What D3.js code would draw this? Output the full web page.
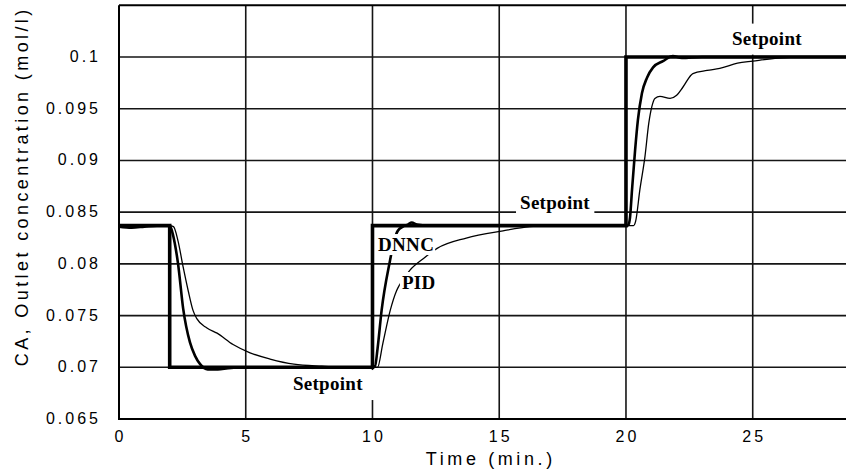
<!DOCTYPE html>
<html>
<head>
<meta charset="utf-8">
<script src="https://cdn.jsdelivr.net/npm/d3@7/dist/d3.min.js"></script>
<style>
  html, body { margin: 0; padding: 0; background: #fff; }
  svg { display: block; }
</style>
</head>
<body>
<svg id="chart" width="846" height="474"></svg>
<script>
// Axis ticks
const timeTicks = [0, 5, 10, 15, 20, 25];
const timeTickLabels = ["0", "5", "10", "15", "20", "25"];
const concTicks = [0.065, 0.07, 0.075, 0.08, 0.085, 0.09, 0.095, 0.1];
const concTickLabels = ["0.065", "0.07", "0.075", "0.08", "0.085", "0.09", "0.095", "0.1"];

// Setpoint (step changes)
const setpointTime = [0, 2, 10, 20, 28.7];
const setpointConc = [0.0837, 0.07, 0.0837, 0.1, 0.1];

// DNNC controller response
const dnncTime = [0, 0.5, 1.0, 1.5, 2.0, 2.1, 2.2, 2.33, 2.53, 2.8, 3.0, 3.2, 3.5, 3.9, 4.3, 5.0,
  9.95, 10.1, 10.2, 10.36, 10.69, 10.85, 11.0, 11.2, 11.4, 11.55, 11.75, 12.2,
  20.05, 20.1, 20.16, 20.24, 20.36, 20.47, 20.63, 20.83, 21.07, 21.46, 21.85, 22.2, 23.0, 28.7];
const dnncConc = [0.0836, 0.0835, 0.0836, 0.0837, 0.0837, 0.0831, 0.0820, 0.0800, 0.0757, 0.0724, 0.0711, 0.0703, 0.0698, 0.0698, 0.0699, 0.0700,
  0.0700, 0.0701, 0.0718, 0.0755, 0.0803, 0.0822, 0.0832, 0.0836, 0.0838, 0.0840, 0.0838, 0.0837,
  0.0837, 0.0838, 0.0845, 0.0872, 0.0910, 0.0939, 0.0965, 0.0980, 0.0990, 0.0996, 0.1001, 0.0999, 0.1000, 0.1000];

// PID controller response
const pidTime = [0, 1.0, 2.0, 2.15, 2.33, 2.53, 2.73, 2.92, 3.07, 3.47, 3.87, 4.5, 5.17, 5.96, 6.9, 8.0, 9.0,
  10.2, 10.4, 10.7, 10.95, 11.1, 11.48, 12.0, 12.55, 13.7, 15.15, 16.2, 17.0,
  20.3, 20.38, 20.55, 20.75, 20.9, 21.02, 21.14, 21.34, 21.74, 22.0, 22.25, 22.64, 23.2, 23.7, 24.4, 25.0, 26.0, 27.0, 28.7];
const pidConc = [0.0837, 0.0837, 0.0837, 0.0836, 0.0822, 0.0797, 0.0774, 0.0755, 0.0747, 0.0738, 0.0733, 0.0722, 0.0714, 0.0708, 0.0703, 0.0701, 0.0700,
  0.0700, 0.0722, 0.0755, 0.0774, 0.0781, 0.0794, 0.0805, 0.0815, 0.0825, 0.0832, 0.0836, 0.0837,
  0.0837, 0.0841, 0.0872, 0.0904, 0.0936, 0.0952, 0.0960, 0.0962, 0.0960, 0.0963, 0.0971, 0.0984, 0.0987, 0.0989, 0.0994, 0.0996, 0.0999, 0.1000, 0.1000];

// Curve annotations (anchored in data units)
const noteText = ["Setpoint", "Setpoint", "Setpoint", "DNNC", "PID"];
const noteTime = [6.86, 15.82, 24.18, 10.22, 11.16];
const noteConc = [0.0678, 0.0853, 0.1012, 0.08124, 0.07757];

const svg = d3.select("#chart");

const x = d3.scaleLinear().domain([0, 28.68]).range([119, 846]);
const y = d3.scaleLinear().domain([0.065, 0.105]).range([419, 5.3]);

const gGrid = svg.append("g");
const gCurves = svg.append("g");
const gBoxes = svg.append("g");
const gSet = svg.append("g");
const gText = svg.append("g");

// Grid lines
gGrid.selectAll("line.v").data(timeTicks.filter(t => t > 0)).join("line")
  .attr("x1", d => x(d)).attr("x2", d => x(d))
  .attr("y1", y(0.105)).attr("y2", y(0.065))
  .attr("stroke", "#151515").attr("stroke-width", 1.6);
gGrid.selectAll("line.h").data(concTicks.filter(v => v > 0.065)).join("line")
  .attr("x1", x(0)).attr("x2", 846)
  .attr("y1", d => y(d)).attr("y2", d => y(d))
  .attr("stroke", "#151515").attr("stroke-width", 1.6);

// Frame: left, bottom and top edges
gGrid.append("line").attr("x1", x(0)).attr("x2", x(0)).attr("y1", y(0.105)).attr("y2", y(0.065) + 1)
  .attr("stroke", "#000").attr("stroke-width", 2);
gGrid.append("line").attr("x1", x(0)).attr("x2", 846).attr("y1", y(0.065)).attr("y2", y(0.065))
  .attr("stroke", "#000").attr("stroke-width", 2);
gGrid.append("line").attr("x1", x(0)).attr("x2", 846).attr("y1", y(0.105)).attr("y2", y(0.105))
  .attr("stroke", "#000").attr("stroke-width", 2);

// Response curves
const smooth = d3.line().x(d => x(d[0])).y(d => y(d[1])).curve(d3.curveMonotoneX);
gCurves.append("path")
  .attr("d", smooth(d3.zip(pidTime, pidConc)))
  .attr("fill", "none").attr("stroke", "#000").attr("stroke-width", 1.3);
gCurves.append("path")
  .attr("d", smooth(d3.zip(dnncTime, dnncConc)))
  .attr("fill", "none").attr("stroke", "#000").attr("stroke-width", 2.6);

// Setpoint step trajectory
const step = d3.line().x(d => x(d[0])).y(d => y(d[1])).curve(d3.curveStepAfter);
gSet.append("path")
  .attr("d", step(d3.zip(setpointTime, setpointConc)))
  .attr("fill", "none").attr("stroke", "#000").attr("stroke-width", 3.6)
  .attr("stroke-linejoin", "miter");

// Annotation labels with white backing boxes
const notePad = [[3, 3, 13, 6], [4, 3, 4, 3], [4, 4, 4, 6], [1, 0, 1, 0], [2, 0, 1, 0]];
noteText.forEach((txt, i) => {
  const t = gText.append("text")
    .attr("x", x(noteTime[i])).attr("y", y(noteConc[i]))
    .attr("font-family", "'Liberation Serif', 'Times New Roman', serif")
    .attr("font-weight", "bold").attr("font-size", 19)
    .style("letter-spacing", "0.3px")
    .attr("fill", "#000")
    .text(txt);
  const b = t.node().getBBox();
  const p = notePad[i];
  gBoxes.append("rect")
    .attr("x", b.x - p[0]).attr("y", b.y - p[1])
    .attr("width", b.width + p[0] + p[2]).attr("height", b.height + p[1] + p[3])
    .attr("fill", "#fff");
});

// Tick labels
const sans = "'Liberation Sans', Arial, sans-serif";
const ls = 3;
gText.selectAll("text.xt").data(timeTicks).join("text")
  .attr("x", d => x(d) + ls / 2).attr("y", 442)
  .attr("text-anchor", "middle")
  .attr("font-family", sans).attr("font-size", 16)
  .style("letter-spacing", ls + "px")
  .text((d, i) => timeTickLabels[i]);
gText.selectAll("text.yt").data(concTicks).join("text")
  .attr("x", 98 + ls).attr("y", d => y(d) + 5)
  .attr("text-anchor", "end")
  .attr("font-family", sans).attr("font-size", 16)
  .style("letter-spacing", ls + "px")
  .text((d, i) => concTickLabels[i]);

// Axis titles
gText.append("text")
  .attr("x", 489 + 1.8).attr("y", 465)
  .attr("text-anchor", "middle")
  .attr("font-family", sans).attr("font-size", 18)
  .style("letter-spacing", "3.6px")
  .text("Time (min.)");
gText.append("text")
  .attr("transform", "translate(28,188) rotate(-90)")
  .attr("x", 1.7)
  .attr("text-anchor", "middle")
  .attr("font-family", sans).attr("font-size", 18)
  .style("letter-spacing", "3.4px")
  .text("CA, Outlet concentration (mol/l)");
</script>
</body>
</html>
